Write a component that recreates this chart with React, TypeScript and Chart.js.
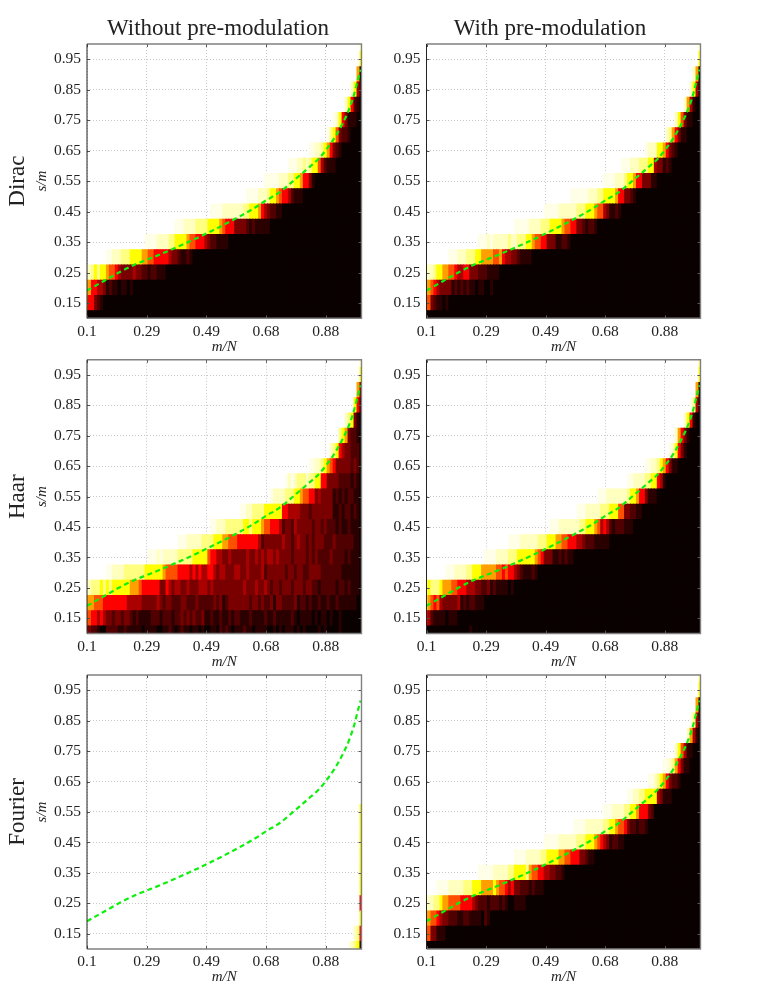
import React, { useEffect, useRef } from "react";
import { Chart, registerables } from "chart.js";

Chart.register(...registerables);

// Tick values and labels
const xTickValues = [0.1, 0.2957, 0.4913, 0.687, 0.8826];
const xTickLabels = ["0.1", "0.29", "0.49", "0.68", "0.88"];
const yTickValues = [0.15, 0.25, 0.35, 0.45, 0.55, 0.65, 0.75, 0.85, 0.95];

// Heat-map axes: cell centres
const COLUMN_COUNT = 93;
const ROW_COUNT = 19;

// Phase-transition curve (green dashed)
const curveX = [0.1, 0.151, 0.206, 0.261, 0.296, 0.35, 0.405, 0.46, 0.493, 0.545, 0.6, 0.654, 0.687, 0.731, 0.78, 0.829, 0.862, 0.884, 0.911, 0.939, 0.961, 0.977, 0.988, 0.997];
const curveY = [0.191, 0.22, 0.251, 0.278, 0.292, 0.314, 0.338, 0.363, 0.379, 0.405, 0.434, 0.465, 0.487, 0.513, 0.554, 0.596, 0.626, 0.653, 0.691, 0.741, 0.79, 0.839, 0.883, 0.916];

// Level code of a cell -> colour (hot colormap)
const levelColors = ["#0a0000", "#2a0000", "#500000", "#7a0000", "#aa0000", "#ff0000", "#ff5000", "#ffa000", "#ffff00", "#ffff80", "#ffffc0", "#ffffe8", "#ffffff"];

// Each row, from the bottom: [first column, cell levels]. Cells before it are white, after it black.
type Row = [number, string];

const diracPlain: Row[] = [
  [0, "0"],
  [0, "655321"],
  [0, "775544312110110100"],
  [0, "aa9898876654333343322122111"],
  [7, "bbaaa999888877665555543321121"],
  [20, "bbbbaaaa99888876655543221111"],
  [30, "bbbaaaa9999888876555333321211111"],
  [42, "bbbbaaaaaaa9988875432211"],
  [54, "bbbbaaa988765542111"],
  [60, "bbbbbaaa998875531"],
  [68, "bbbaa9a988642111"],
  [75, "bbaa9875321"],
  [81, "b9863221"],
  [83, "ba853111"],
  [87, "a8521"],
  [89, "a841"],
  [91, "70"],
  [92, "8"],
  [92, "a"],
];

const diracPre: Row[] = [
  [0, "0"],
  [0, "66321101"],
  [0, "77654333312121211011001"],
  [0, "aaa988776654455333222 1111"],
  [8, "bbbaaa9998877776675443321111"],
  [18, "bbbabaaaaa9aa9998876655333112210"],
  [30, "bbbbbaaaa9998888766553321221"],
  [40, "bbbbbaaaaaa999888766431121"],
  [49, "bbbbbbaaa9988887553321"],
  [60, "bbbbaaa98875533311"],
  [66, "bbbaaa99988433121"],
  [74, "baaa8875321"],
  [81, "a975311"],
  [84, "a86311"],
  [87, "a741"],
  [89, "a840"],
  [90, "a70"],
  [92, "8"],
  [92, "a"],
];

const haarPlain: Row[] = [
  [0, "3322100222 2112111110 1111001121 0121101101 00110 212101112110111100101011101010000101000010000"],
  [0, "6655454332 3323321211 1122212221 2232323223 11211 211212211121111211211111210111101011010010000000"],
  [0, "7776665555 5555444443 3333432332 2233222322 22232 312333333323323223133222231221211211211211111100"],
  [0, "aa99989898 8888877765 5555533543 4433433344 43433 333333334333433432332333233323322122222122121110"],
  [7, "bbaaaa99999 99888888 7 6666 5555 4 5 4 5 4 4 5 5 4 3 4 43334433433334233333323323322333322222221111110"],
  [21, "bbbabaaaaa 9999 988888 6 5 5 4 4 3 3 4 3 3 3 3 3 4 3 3 4 3 4 3 4 4 3 4 3 3 3 3 2 3 3 3 3 2 3 2 3 2 2 2 2 3 2 2 2 2 1 2 1 1 1 0"],
  [31, "bbb aaaaa 999 9888 77 666 5555555 4 2 333333 4 3 3 2 3 4 3 3 2 3 2 3 3 3 2 2 2 3 222222 1 1 0"],
  [42, "bb aaa 99999 988 9 888 7 66 555 4 2 33 2 4 33333 2 33 2 3 222 1 2 11 2 111 0"],
  [52, "bb aa 9999 888888 55 4444 333 2 3333333 11 2 1 22 1 2 1 0"],
  [62, "b aaaa 999 88 7 66 55 3 4 3333 1 2 1 2 1 22 11 0"],
  [67, "b a b a 999 a 99 88 55 3333 2222 1 2 1 0"],
  [75, "bb aa 9 8 7 6 5 33333 2 3 2 0"],
  [82, "a 9 8 5 4 3 3 2 2 2 0"],
  [85, "9 8 7 3 2 2 1 0"],
  [87, "a 9 8 3 1 0"],
  [90, "8 5 1"],
  [91, "7 3"],
  [92, "8"],
  [92, "a"],
];

const haarPre: Row[] = [
  [0, "0000000000000001"],
  [0, "54211110111"],
  [0, "87656433333412122111"],
  [0, "989998777665554443322312111101"],
  [7, "bbbaaaa998887777766565543211121"],
  [20, "bbbbaaaa999888888765333 1121211"],
  [28, "bbbbaaaaaa999888776655544322211111"],
  [42, "bbbaaaaaaa998887645421222111"],
  [51, "bbbaaaaa99988866332211"],
  [58, "bbbaaaaaaa9887553111"],
  [68, "bbaaaa9988541"],
  [74, "bbaa9875311"],
  [82, "ba8531"],
  [84, "a7531"],
  [87, "a851"],
  [89, "b940"],
  [91, "70"],
  [92, "8"],
  [92, "9"],
];

const fourierPlain: Row[] = [
  [88, "ba980"],
  [90, "a95"],
  [92, "8"],
  [92, "5"],
  [92, "8"],
  [92, "8"],
  [92, "8"],
  [92, "8"],
  [92, "8"],
  [92, "8"],
];

const fourierPre: Row[] = [
  [0, "0"],
  [0, "66331110"],
  [0, "7766543322211221111021"],
  [0, "aaa9987766665555432221222121001111"],
  [4, "bbbbaaaaa999888777787665453322212111"],
  [18, "bbbbbaaaaa9988889766554433221"],
  [30, "bbbbaaaaa998888776655533211"],
  [40, "bbbbbaaaaaa9998887654312211"],
  [50, "bbbbaaaaaa998876653221221"],
  [60, "bbbaaaa9988755532"],
  [68, "bbaa99888843111"],
  [75, "bba98753221"],
  [80, "bba975311"],
  [84, "a86411"],
  [88, "a741"],
  [89, "b940"],
  [91, "70"],
  [92, "8"],
  [92, "9"],
];

const columnTitles = ["Without pre-modulation", "With pre-modulation"];
const rowTitles = ["Dirac", "Haar", "Fourier"];
const panelRows: Row[][][] = [
  [diracPlain, diracPre],
  [haarPlain, haarPre],
  [fourierPlain, fourierPre],
];

// Layout of the page
const canvasTops = [0, 315, 630];
const canvasHeight = 360;
const plotTops = [44, 44.8, 45];
const plotBottoms = [318.3, 318.5, 319];
const canvasLefts = [0, 381];
const canvasWidths = [436, 338];
const plotLefts = [87, 45.5];
const plotRights = [361.5, 319.5];

const SERIF = "'Liberation Serif', serif";

function columnX(k: number) {
  return 0.1 + (0.9 * k) / (COLUMN_COUNT - 1);
}
function rowY(i: number) {
  return 0.1 + (0.9 * i) / (ROW_COUNT - 1);
}

function rowDataset(rows: Row[], i: number) {
  const row = rows[i];
  const data: { x: number; y: [number, number] }[] = [];
  const colors: string[] = [];
  if (!row) return null;
  const [start, raw] = row;
  const levels = raw.replace(/\s/g, "");
  const half = 0.45 / (ROW_COUNT - 1);
  for (let k = start; k < COLUMN_COUNT; k++) {
    const j = k - start;
    const level = j < levels.length ? parseInt(levels[j], 16) : 0;
    data.push({ x: columnX(k), y: [rowY(i) - half, rowY(i) + half] });
    colors.push(levelColors[level]);
  }
  return {
    type: "bar" as const,
    data,
    backgroundColor: colors,
    borderWidth: 0,
    order: 1,
    grouped: false,
    barPercentage: 1,
    categoryPercentage: 1,
    inflateAmount: 0.5,
  };
}

const framePlugin = {
  id: "frame",
  afterDraw(chart: any) {
    const { ctx, chartArea: a, scales } = chart;
    ctx.save();
    ctx.lineWidth = 1;
    ctx.strokeStyle = "#555555";
    ctx.beginPath();
    xTickValues.forEach((v) => {
      const x = Math.round(scales.x.getPixelForValue(v)) + 0.5;
      ctx.moveTo(x, a.top);
      ctx.lineTo(x, a.top + 3);
      ctx.moveTo(x, a.bottom);
      ctx.lineTo(x, a.bottom - 3);
    });
    yTickValues.forEach((v) => {
      const y = Math.round(scales.y.getPixelForValue(v)) + 0.5;
      ctx.moveTo(a.left, y);
      ctx.lineTo(a.left + 3, y);
      ctx.moveTo(a.right, y);
      ctx.lineTo(a.right - 3, y);
    });
    ctx.stroke();
    ctx.strokeStyle = "#808080";
    ctx.lineWidth = 1.4;
    ctx.beginPath();
    ctx.moveTo(a.left, a.top);
    ctx.lineTo(a.right, a.top);
    ctx.lineTo(a.right, a.bottom);
    ctx.lineTo(a.left, a.bottom);
    ctx.stroke();
    ctx.strokeStyle = "#222222";
    ctx.lineWidth = 1;
    ctx.beginPath();
    ctx.moveTo(a.left, a.top);
    ctx.lineTo(a.left, a.bottom);
    ctx.stroke();
    ctx.restore();
  },
};

function Panel({ row, col }: { row: number; col: number }) {
  const ref = useRef<HTMLCanvasElement>(null);
  useEffect(() => {
    const rows = panelRows[row][col];
    const bars: any[] = [];
    for (let i = 0; i < ROW_COUNT; i++) {
      const d = rowDataset(rows, i);
      if (d) bars.push(d);
    }
    const curve = {
      type: "line" as const,
      data: curveX.map((x, i) => ({ x, y: curveY[i] })),
      borderColor: "#0cf00c",
      borderWidth: 2.2,
      borderDash: [5, 3.5],
      cubicInterpolationMode: "monotone",
      pointRadius: 0,
      fill: false,
      order: 0,
    };
    const isLeft = col === 0;
    const scales: any = {
      x: {
        type: "linear",
        min: 0.1,
        max: 1,
        offset: false,
        grid: { offset: false, color: "#c8c8c8", drawTicks: false, lineWidth: 1 },
        border: { display: false, dash: [1, 2] },
        ticks: {
          autoSkip: false,
          maxRotation: 0,
          padding: 4,
          color: "#222222",
          font: { family: SERIF, size: 15.5 },
          callback: (v: number) => {
            const i = xTickValues.indexOf(v);
            return i >= 0 ? xTickLabels[i] : "";
          },
        },
        afterBuildTicks: (s: any) => {
          s.ticks = xTickValues.map((value) => ({ value }));
        },
        title: {
          display: true,
          text: "m/N",
          color: "#222222",
          font: { family: SERIF, size: 15, style: "italic", lineHeight: 1.2 },
          padding: { top: 0, bottom: 4 },
        },
        afterFit: (s: any) => {
          s.height = canvasHeight - plotBottoms[row];
        },
      },
      y: {
        type: "linear",
        position: "left",
        weight: 0,
        min: 0.1,
        max: 1,
        grid: { color: "#c8c8c8", drawTicks: false, lineWidth: 1 },
        border: { display: false, dash: [1, 2] },
        ticks: {
          autoSkip: false,
          padding: 6,
          color: "#222222",
          font: { family: SERIF, size: 15.5 },
          callback: (v: number) => v.toFixed(2),
        },
        afterBuildTicks: (s: any) => {
          s.ticks = yTickValues.map((value) => ({ value }));
        },
        title: {
          display: isLeft,
          text: "s/m",
          color: "#222222",
          font: { family: SERIF, size: 15, style: "italic", lineHeight: 1.2 },
          padding: { top: 3, bottom: 0 },
        },
        afterFit: (s: any) => {
          s.width = isLeft ? plotLefts[0] - 30 : plotLefts[1];
        },
      },
      pad: {
        type: "linear",
        position: "right",
        display: true,
        min: 0,
        max: 1,
        grid: { display: false },
        border: { display: false },
        ticks: { display: false },
        afterFit: (s: any) => {
          s.width = canvasWidths[col] - plotRights[col];
        },
      },
    };
    if (isLeft) {
      scales.rowTitle = {
        type: "linear",
        position: "left",
        weight: 1,
        min: 0,
        max: 1,
        grid: { display: false },
        border: { display: false },
        ticks: { display: false },
        title: {
          display: true,
          text: rowTitles[row],
          color: "#222222",
          font: { family: SERIF, size: 23, lineHeight: 1.2 },
          padding: { top: 4, bottom: 0 },
        },
        afterFit: (s: any) => {
          s.width = 30;
        },
      };
    }
    const chart = new Chart(ref.current as HTMLCanvasElement, {
      type: "bar",
      data: { datasets: [...bars, curve] as any },
      plugins: [framePlugin],
      options: {
        responsive: false,
        animation: false,
        devicePixelRatio: 1,
        layout: { padding: { top: row === 0 ? 0 : plotTops[row], left: 0, right: 0, bottom: 0 }, autoPadding: false },
        plugins: {
          legend: { display: false },
          tooltip: { enabled: false },
          title: {
            display: row === 0,
            text: columnTitles[col],
            color: "#222222",
            font: { family: SERIF, size: 23, weight: "normal", lineHeight: 1.2 },
            padding: { top: 15, bottom: 1.4 },
          },
        },
        scales,
      } as any,
    });
    return () => chart.destroy();
  }, [row, col]);
  return (
    <canvas
      ref={ref}
      width={canvasWidths[col]}
      height={canvasHeight}
      style={{ position: "absolute", left: canvasLefts[col], top: canvasTops[row], display: "block" }}
    />
  );
}

export default function App() {
  return (
    <div style={{ position: "absolute", left: 0, top: 0, width: 763, height: 1005, overflow: "hidden", background: "#ffffff" }}>
      {[0, 1, 2].map((row) => [0, 1].map((col) => <Panel key={`${row}-${col}`} row={row} col={col} />))}
    </div>
  );
}
